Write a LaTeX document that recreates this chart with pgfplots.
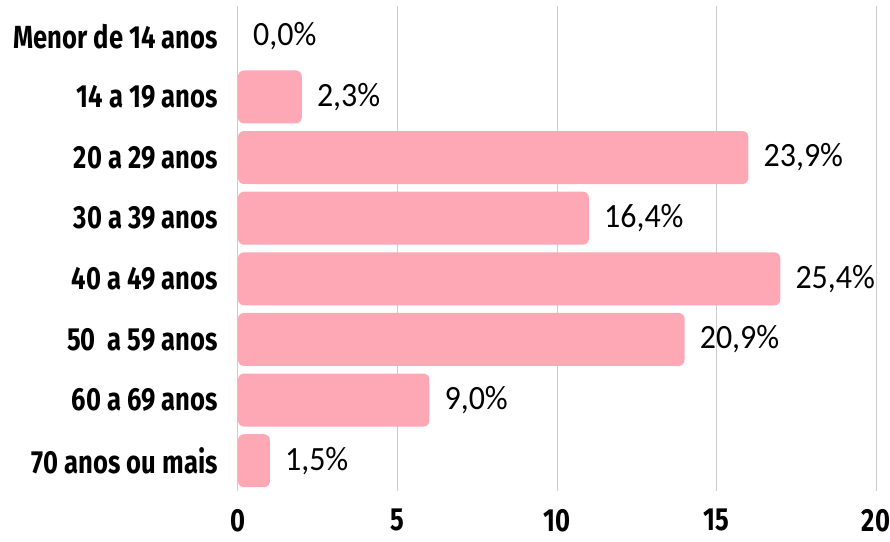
\documentclass[border=0pt]{standalone}
\usepackage{fontspec}
\setmainfont{Fira Sans}[FakeStretch=0.8]
\newfontfamily\valfont{Carlito}[FakeStretch=0.94]
\usepackage{pgfplots}
\pgfplotsset{compat=1.18}
\definecolor{barpink}{RGB}{255,168,181}
\definecolor{gridgray}{RGB}{204,204,204}

\begin{document}
\begin{tikzpicture}
\path[use as bounding box] (-238pt,-50pt) rectangle (652pt,491pt);
\begin{axis}[
 scale only axis, width=638pt, height=485pt,
 xbar, bar width=53pt,
 xmin=0, xmax=20, ymin=-0.5, ymax=7.5, y dir=reverse,
 xtick={0,5,10,15,20}, ytick={0,...,7},
 yticklabels={Menor de 14 anos,14 a 19 anos,20 a 29 anos,30 a 39 anos,40 a 49 anos,50\ \ a 59 anos,60 a 69 anos,70 anos ou mais},
 axis line style={draw=none}, major tick length=0pt,
 xmajorgrids, grid style={gridgray, line width=1pt},
 tick label style={font=\fontsize{32}{34}\selectfont\bfseries},
 /pgf/number format/assume math mode=true,
 yticklabel style={inner sep=0pt, xshift=-20pt},
 xticklabel style={inner sep=0pt, yshift=-18pt},
]
\addplot[fill=barpink, draw=none, rounded corners=6pt,
 nodes near coords, point meta=explicit symbolic,
 nodes near coords style={font=\valfont\fontsize{34}{36}\selectfont, anchor=west, inner sep=0pt, xshift=15pt, text=black}]
 table[meta=lab] {
x y lab
0 0 0,0\%
2 1 2,3\%
16 2 23,9\%
11 3 16,4\%
17 4 25,4\%
14 5 20,9\%
6 6 9,0\%
1 7 1,5\%
};
\end{axis}
\end{tikzpicture}
\end{document}
